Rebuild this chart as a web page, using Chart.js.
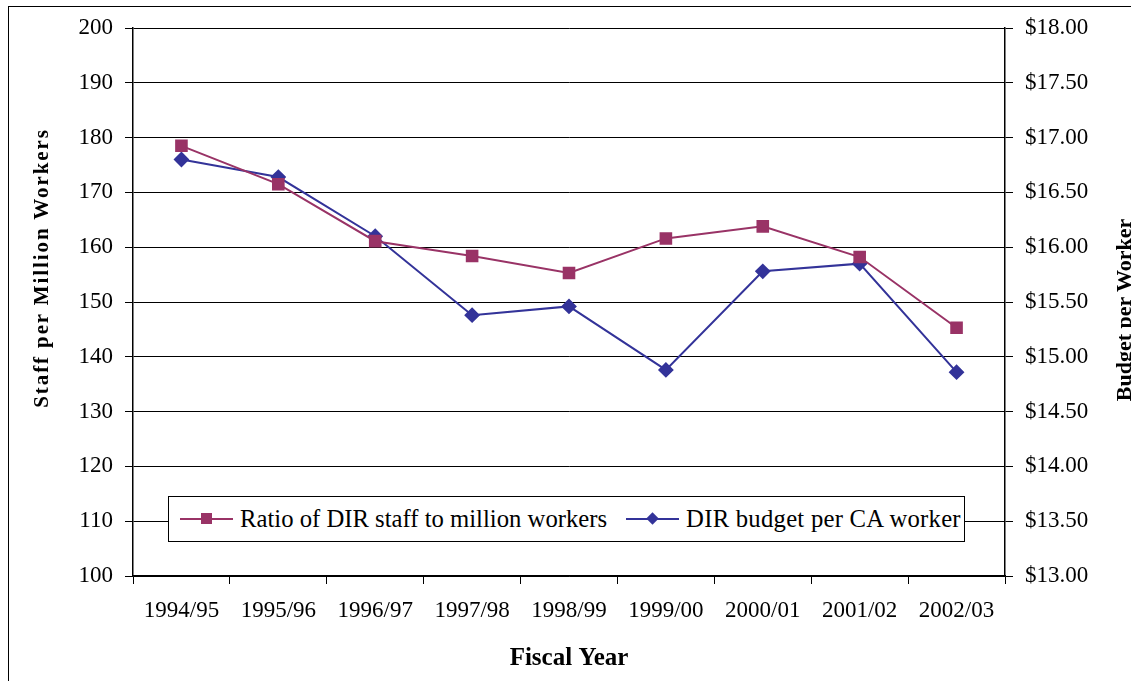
<!DOCTYPE html>
<html>
<head>
<meta charset="utf-8">
<script src="https://cdn.jsdelivr.net/npm/chart.js@4/dist/chart.umd.min.js"></script>
<style>
    html, body { margin: 0; padding: 0; background: #fff; overflow: hidden; }
    #wrap { position: relative; width: 1131px; height: 681px; }
    #frame { position: absolute; left: 8px; top: 6px; width: 2000px; height: 2000px; border: 1.5px solid #000; box-sizing: border-box; pointer-events: none; }
    .vtitle {
        position: absolute;
        transform: translate(-50%, -50%) rotate(-90deg);
        font-family: "Liberation Serif", "Times New Roman", serif;
        font-weight: bold;
        white-space: nowrap;
    }
    #leftTitle { left: 41px; top: 268px; font-size: 21px; letter-spacing: 1.9px; }
    #rightTitle { left: 1124px; top: 310px; font-size: 22px; }
    #legend {
        position: absolute; left: 168px; top: 496px; width: 797px; height: 46px;
        border: 1px solid #000; background: #fff; box-sizing: border-box;
        font: 24.7px "Liberation Serif", "Times New Roman", serif;
        display: flex; align-items: center; white-space: nowrap;
    }
    .item { display: flex; align-items: center; }
    .key { position: relative; width: 53px; height: 20px; margin-right: 7px; }
    .key .ln { position: absolute; left: 0; right: 0; top: 9px; height: 2px; }
    .key .mk { position: absolute; left: 21px; top: 4px; width: 11px; height: 11px; }
    .key .dia { transform: rotate(45deg) scale(0.8); }
</style>
</head>
<body>
<div id="wrap">
    <canvas id="chart" width="1131" height="681"></canvas>
    <div id="frame"></div>
    <div id="leftTitle" class="vtitle">Staff per Million Workers</div>
    <div id="rightTitle" class="vtitle">Budget per Worker</div>
    <div id="legend"></div>
</div>
<script>
(function() {
    'use strict';

    // ---- data ----
    const years = ['1994/95', '1995/96', '1996/97', '1997/98', '1998/99', '1999/00', '2000/01', '2001/02', '2002/03'];
    const staffPerMillion = [178.5, 171.5, 161.1, 158.4, 155.3, 161.6, 163.8, 158.2, 145.3];
    const budgetPerWorker = [16.80, 16.64, 16.10, 15.38, 15.46, 14.88, 15.78, 15.85, 14.86];
    const seriesNames = ['Ratio of DIR staff to million workers', 'DIR budget per CA worker'];
    const seriesColors = ['#993366', '#333399'];

    const serif = '"Liberation Serif", "Times New Roman", serif';

    // legend as html, sits on top of the plot like the original
    const legend = document.getElementById('legend');
    const pads = [11, 19];
    const spacing = ['0px', '0.25px'];
    seriesNames.forEach((name, i) => {
        const item = document.createElement('div');
        item.className = 'item';
        item.style.marginLeft = pads[i] + 'px';
        item.innerHTML =
            '<span class="key"><span class="ln" style="background:' + seriesColors[i] + '"></span>' +
            '<span class="mk' + (i === 1 ? ' dia' : '') + '" style="background:' + seriesColors[i] + '"></span></span>' +
            '<span style="letter-spacing:' + spacing[i] + '">' + name + '</span>';
        legend.appendChild(item);
    });

    const ctx = document.getElementById('chart').getContext('2d');
    new Chart(ctx, {
        type: 'line',
        data: {
            labels: years,
            datasets: [{
                label: seriesNames[0],
                data: staffPerMillion,
                yAxisID: 'y',
                borderColor: seriesColors[0],
                backgroundColor: seriesColors[0],
                borderWidth: 2,
                pointStyle: 'rect',
                pointRadius: 7.5,
                pointHoverRadius: 7.5,
                tension: 0
            }, {
                label: seriesNames[1],
                data: budgetPerWorker,
                yAxisID: 'y1',
                borderColor: seriesColors[1],
                backgroundColor: seriesColors[1],
                borderWidth: 2,
                pointStyle: 'rectRot',
                pointRadius: 6.5,
                pointHoverRadius: 6.5,
                tension: 0
            }]
        },
        options: {
            responsive: false,
            animation: false,
            layout: { padding: { top: 28, left: 0, right: 0, bottom: 0 } },
            plugins: {
                legend: { display: false },
                tooltip: { enabled: false }
            },
            scales: {
                x: {
                    offset: true,
                    grid: { offset: true, drawOnChartArea: false, color: '#000', tickLength: 8, lineWidth: 1 },
                    border: { color: '#000', width: 1.5 },
                    ticks: { color: '#000', padding: 13, maxRotation: 0, font: { family: serif, size: 23 } },
                    title: { display: true, text: 'Fiscal Year', color: '#000', padding: { top: 0, bottom: 7 }, font: { family: serif, size: 25, weight: 'bold' } },
                    afterFit: s => { s.height = 681 - 576; }
                },
                y: {
                    position: 'left',
                    min: 100, max: 200,
                    ticks: { stepSize: 10, color: '#000', padding: 12, font: { family: serif, size: 23 } },
                    grid: { color: '#000', lineWidth: 1, tickLength: 8 },
                    border: { color: '#000', width: 1.5 },
                    afterFit: s => { s.width = 133; }
                },
                y1: {
                    position: 'right',
                    min: 13, max: 18,
                    ticks: {
                        stepSize: 0.5, color: '#000', padding: 12, font: { family: serif, size: 23 },
                        callback: v => '$' + Number(v).toFixed(2)
                    },
                    grid: { drawOnChartArea: false, color: '#000', lineWidth: 1, tickLength: 8 },
                    border: { color: '#000', width: 1.5 },
                    afterFit: s => { s.width = 1131 - 1005; }
                }
            }
        }
    });
})();
</script>
</body>
</html>
